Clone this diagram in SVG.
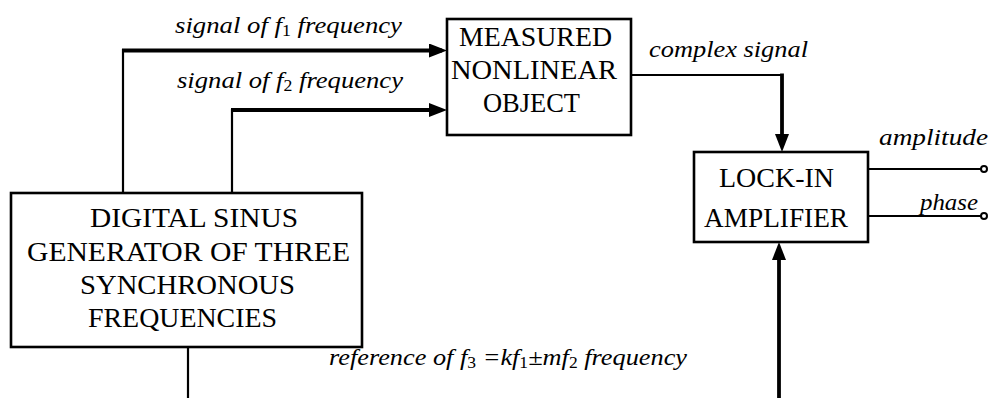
<svg xmlns="http://www.w3.org/2000/svg" width="990" height="398" viewBox="0 0 990 398">
<style>
.box{fill:#fff;stroke:#000;stroke-width:2.6}
.bt{font-family:'Liberation Serif','Times New Roman',serif;font-size:28px;fill:#000;text-anchor:middle}
.lb{font-family:'Liberation Serif','Times New Roman',serif;font-size:24px;font-style:italic;fill:#000}
.sub{font-size:16px;font-style:normal}
.thin{fill:none;stroke:#000;stroke-width:2.2}
.thick{fill:none;stroke:#000;stroke-width:3.8;marker-end:url(#ah)}
.term{fill:#fff;stroke:#000;stroke-width:2}
</style>
<defs>
<marker id="ah" markerUnits="userSpaceOnUse" markerWidth="18" markerHeight="14" refX="13" refY="7" orient="auto"><path d="M0,0 L18,7 L0,14 Z" fill="#000"/></marker>
</defs>
<g id="connectors">
<path class="thin" d="M123,193 V49"/>
<path class="thick" d="M122,50.5 H442"/>
<path class="thin" d="M232,193 V109"/>
<path class="thick" d="M231,110 H442"/>
<path class="thin" d="M631,75 H783"/>
<path class="thick" d="M782,73.5 V147"/>
<path class="thick" d="M779,398 V247"/>
<path class="thin" d="M188,347 V398"/>
<path class="thin" d="M868,169 H981"/>
<circle class="term" cx="984" cy="169" r="3"/>
<path class="thin" d="M868,216 H981"/>
<circle class="term" cx="984" cy="216" r="3"/>
</g>
<g id="generator">
<rect class="box" x="11" y="193" width="351" height="154"/>
<text class="bt" x="194" y="227" textLength="208" lengthAdjust="spacingAndGlyphs">DIGITAL  SINUS</text>
<text class="bt" x="188.5" y="260.5" textLength="323" lengthAdjust="spacingAndGlyphs">GENERATOR  OF  THREE</text>
<text class="bt" x="187.5" y="293.5" textLength="215" lengthAdjust="spacingAndGlyphs">SYNCHRONOUS</text>
<text class="bt" x="182.5" y="327" textLength="189" lengthAdjust="spacingAndGlyphs">FREQUENCIES</text>
</g>
<g id="object">
<rect class="box" x="447" y="19" width="184" height="116"/>
<text class="bt" x="535.5" y="46" textLength="153" lengthAdjust="spacingAndGlyphs">MEASURED</text>
<text class="bt" x="534" y="79" textLength="166" lengthAdjust="spacingAndGlyphs">NONLINEAR</text>
<text class="bt" x="531.5" y="112" textLength="97" lengthAdjust="spacingAndGlyphs">OBJECT</text>
</g>
<g id="lockin">
<rect class="box" x="694" y="152" width="174" height="90"/>
<text class="bt" x="776.5" y="187" textLength="115" lengthAdjust="spacingAndGlyphs">LOCK-IN</text>
<text class="bt" x="776" y="227" textLength="144" lengthAdjust="spacingAndGlyphs">AMPLIFIER</text>
</g>
<g id="labels">
<text class="lb" x="175" y="33" textLength="227" lengthAdjust="spacingAndGlyphs">signal of f<tspan class="sub" dy="3">1</tspan><tspan dy="-3"> frequency</tspan></text>
<text class="lb" x="177" y="88" textLength="226" lengthAdjust="spacingAndGlyphs">signal of f<tspan class="sub" dy="3">2</tspan><tspan dy="-3"> frequency</tspan></text>
<text class="lb" x="649" y="57" textLength="159" lengthAdjust="spacingAndGlyphs">complex signal</text>
<text class="lb" x="879" y="145" textLength="109" lengthAdjust="spacingAndGlyphs">amplitude</text>
<text class="lb" x="920" y="210" textLength="58" lengthAdjust="spacingAndGlyphs">phase</text>
<text class="lb" x="329" y="365" textLength="358" lengthAdjust="spacingAndGlyphs">reference of f<tspan class="sub" dy="3">3</tspan><tspan dy="-3"> =kf</tspan><tspan class="sub" dy="3">1</tspan><tspan dy="-3">±mf</tspan><tspan class="sub" dy="3">2</tspan><tspan dy="-3"> frequency</tspan></text>
</g>
</svg>
